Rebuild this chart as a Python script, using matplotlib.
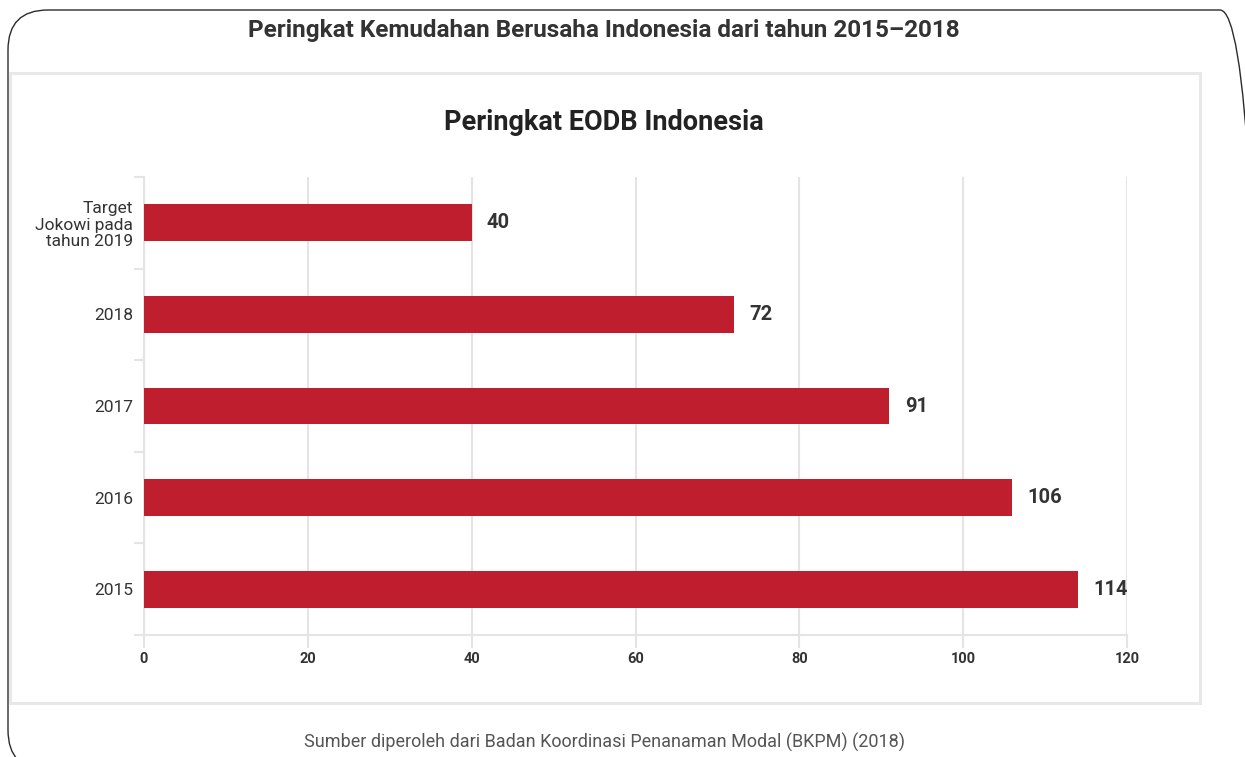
import matplotlib.pyplot as plt
from matplotlib.patches import FancyBboxPatch, Rectangle
import numpy as np

plt.rcParams['font.family'] = ['Roboto', 'DejaVu Sans']

categories = ['2015', '2016', '2017', '2018', 'Target\nJokowi pada\ntahun 2019']
ranks = [114, 106, 91, 72, 40]
xticks = [0, 20, 40, 60, 80, 100, 120]

bar_color = '#BE1E2D'
text_color = '#333333'
grid_color = '#e4e4e4'

W, H = 1245, 757
fig = plt.figure(figsize=(W / 100, H / 100), dpi=100)

def px(x, y):
	# pixel coords (top-left origin) -> figure fraction
	return x / W, 1 - y / H

# outer rounded frame (pixel coords, bottom-left origin)
frame = FancyBboxPatch((8, -13), 1252, 760, boxstyle='round,pad=0,rounding_size=40',
	transform=None, fill=False, edgecolor='#2b2b2b', linewidth=1.0)
fig.patches.append(frame)

# inner light box
bx0, by0 = px(10, 703)
bx1, by1 = px(1200, 73)
fig.patches.append(Rectangle((bx0, by0), bx1 - bx0, by1 - by0, transform=fig.transFigure,
	fill=False, edgecolor='#e8e8e8', linewidth=2.2))

tx, ty = px(604, 31)
fig.text(tx, ty, 'Peringkat Kemudahan Berusaha Indonesia dari tahun 2015\u20132018',
	ha='center', va='center', fontsize=17.5, fontweight='bold', color=text_color)
tx, ty = px(604, 122)
fig.text(tx, ty, 'Peringkat EODB Indonesia', ha='center', va='center',
	fontsize=19.5, fontweight='bold', color='#222222')
tx, ty = px(604, 742)
fig.text(tx, ty, 'Sumber diperoleh dari Badan Koordinasi Penanaman Modal (BKPM) (2018)',
	ha='center', va='center', fontsize=13, color='#555555')

left, bottom = px(144, 635)
right, top = px(1127, 177)
ax = fig.add_axes([left, bottom, right - left, top - bottom])

y = np.arange(len(categories))
ax.barh(y, ranks, height=0.4, color=bar_color, zorder=3)
for yi, v in zip(y, ranks):
	ax.annotate(str(v), (v, yi), xytext=(11, 0), textcoords='offset points',
		ha='left', va='center', fontsize=14.5, fontweight='bold', color=text_color)

ax.set_xlim(0, 120)
ax.set_ylim(-0.5, len(categories) - 0.5)
ax.set_xticks(xticks)
ax.set_xticklabels([str(t) for t in xticks], fontsize=10.5, fontweight='bold', color=text_color)
ax.set_yticks(y)
ax.set_yticklabels(categories, fontsize=12.5, color=text_color, linespacing=1.15)
ax.set_yticks(np.arange(-0.5, len(categories), 1), minor=True)
ax.tick_params(axis='y', which='major', length=0, pad=8)
ax.tick_params(axis='y', which='minor', length=7, color=grid_color, width=1.5)
ax.tick_params(axis='x', length=9, color=grid_color, width=1.5, pad=3)
ax.grid(axis='x', color=grid_color, linewidth=1.5, zorder=0)
for s in ['top', 'right']:
	ax.spines[s].set_visible(False)
for s in ['left', 'bottom']:
	ax.spines[s].set_color(grid_color)
	ax.spines[s].set_linewidth(1.5)

fig.savefig('out.png', dpi=100)
